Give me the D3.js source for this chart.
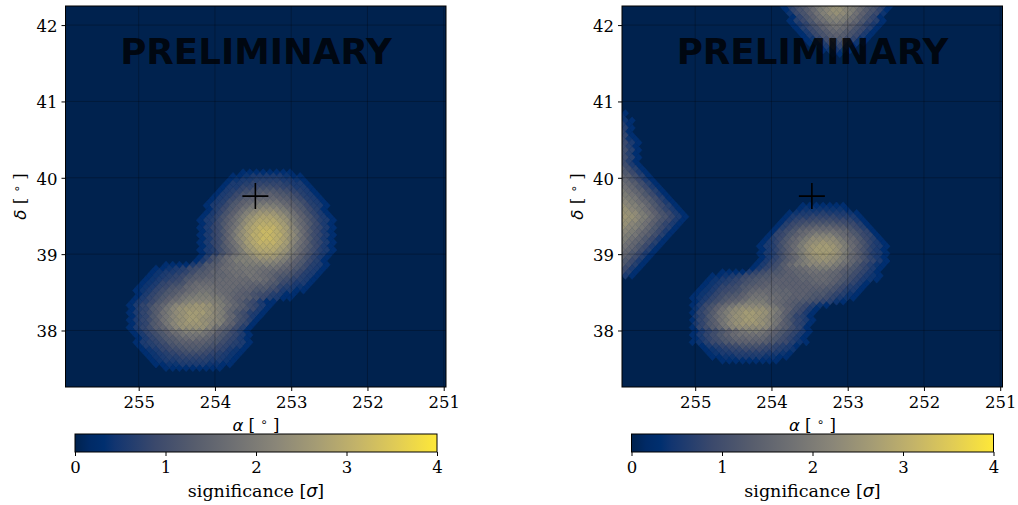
<!DOCTYPE html>
<html>
<head>
<meta charset="utf-8">
<script src="https://d3js.org/d3.v7.min.js"></script>
<style>
  body { margin: 0; background: #fff; }
  svg { display: block; }
  text { font-family: "DejaVu Serif", serif; fill: #000; }
  .math { font-family: "DejaVu Sans", sans-serif; font-style: italic; }
</style>
</head>
<body>
<svg id="chart" width="1018" height="505"></svg>
<script>
// tick labels
var alphaTicks = [255, 254, 253, 252, 251];
var deltaTicks = [38, 39, 40, 41, 42];
var barTicks = [0, 1, 2, 3, 4];

// source marker, degrees
var sourceAlpha = 253.47;
var sourceDelta = 39.76;

// sky pixel grid, degrees
var gridAlpha0 = 255.96, gridAlphaStep = 0.0879;
var gridDelta0 = 42.25, gridDeltaStep = 0.0484;
var sigmaPerStep = 0.11;

// colour bar stops: position in sigma, colour
var barStops = [0, 0.16, 0.32, 0.444, 0.888, 1.332, 1.776, 2.224, 2.668, 3.112, 3.556, 4];
var barColors = ["#00224e", "#002a66", "#002f6f", "#123570", "#3b496c", "#575d6d", "#707173", "#8a8678", "#a59c74", "#c3b369", "#e1cc55", "#fee838"];

// [row, first column, values in steps...]
var leftCells = [
  [45,26,3,3,3,3,3,3,3,3],
  [46,25,3,3,4,5,5,5,5,5,4,3,3],
  [47,24,3,4,5,5,6,6,6,6,5,5,4,3],
  [48,24,3,5,5,6,7,7,7,7,7,6,5,5,3],
  [49,23,3,5,5,7,7,8,9,9,8,7,7,5,5,3],
  [50,23,3,5,6,7,9,10,11,11,11,10,9,7,6,5,3],
  [51,22,3,5,6,8,10,11,12,13,13,12,11,10,8,6,5,3],
  [52,22,3,5,6,8,10,12,13,14,14,14,13,12,10,8,6,5,3],
  [53,21,3,5,6,9,11,13,14,16,16,16,16,14,13,11,9,6,5,3],
  [54,21,3,5,6,8,11,13,15,17,18,19,18,17,15,13,11,8,6,5,3],
  [55,21,3,6,8,11,13,16,18,20,21,21,20,18,16,13,11,8,6,3],
  [56,21,3,5,7,10,13,16,19,21,23,23,23,21,19,16,13,10,7,5,3],
  [57,20,3,5,7,10,13,16,19,22,24,25,25,24,22,19,16,13,10,7,5,3],
  [58,20,3,5,6,9,12,15,18,22,24,26,26,26,24,22,18,15,12,9,6,5,3],
  [59,20,3,5,8,11,14,17,21,24,26,27,27,26,24,21,17,14,11,8,5,3],
  [60,20,3,5,7,9,13,16,20,24,26,28,28,28,26,24,20,16,13,9,7,5,3],
  [61,20,3,5,8,11,15,19,22,25,27,29,29,27,25,22,19,15,11,8,5,3],
  [62,20,3,5,7,9,13,17,21,24,27,28,29,28,27,24,21,17,13,9,7,5,3],
  [63,20,3,5,8,11,15,19,22,25,27,29,29,27,25,22,19,15,11,8,5,3],
  [64,20,3,5,7,9,13,16,20,24,26,28,28,28,26,24,20,16,13,9,7,5,3],
  [65,20,3,5,8,11,14,17,21,24,26,27,27,26,24,21,17,14,11,8,5,3],
  [66,20,3,5,6,9,12,15,18,22,24,26,26,26,24,22,18,15,12,9,6,5,3],
  [67,20,3,5,7,10,13,16,19,22,24,25,25,24,22,19,16,13,10,7,5,3],
  [68,20,3,6,10,12,15,17,18,19,21,23,23,23,21,19,16,13,10,7,5,3],
  [69,19,3,5,8,11,14,16,18,19,19,20,21,21,20,18,16,13,11,8,6,3],
  [70,15,3,3,3,3,5,7,11,12,13,15,16,17,18,18,18,19,18,17,15,13,11,8,6,5,3],
  [71,13,3,3,4,5,6,8,9,10,12,13,15,16,17,17,17,17,16,16,16,14,13,11,9,6,5,3],
  [72,13,3,4,5,5,6,7,9,11,12,14,14,15,16,16,17,17,16,15,14,13,12,10,8,6,5,3],
  [73,12,3,4,5,6,7,8,10,12,12,13,14,14,15,16,16,17,16,15,14,12,11,10,8,6,5,3],
  [74,12,3,4,5,6,7,8,11,12,13,14,14,15,15,15,15,15,16,16,15,13,10,9,7,6,5,3],
  [75,11,3,4,5,7,8,9,10,13,15,15,15,15,15,15,15,15,14,14,14,12,11,8,7,5,5,3],
  [76,11,3,4,5,7,8,10,11,14,15,16,16,16,15,15,15,14,14,13,12,12,10,7,6,5,4,3],
  [77,10,3,4,5,7,9,11,12,13,15,16,17,17,16,15,15,14,13,13,11,11,9,8,5,5,3,3],
  [78,11,3,5,7,9,11,12,14,16,17,18,18,17,16,15,14,13,12,10,9,8,6,5,3,3],
  [79,10,3,5,7,9,11,13,15,17,18,19,19,19,18,17,15,13,13,12,10,8,6,5,3,3],
  [80,10,3,5,6,8,11,13,16,17,19,20,20,20,19,18,16,14,12,10,8,5,3,3],
  [81,9,3,5,7,9,12,14,17,20,21,22,23,23,22,20,18,16,14,12,9,7,5,3],
  [82,10,3,6,7,11,13,17,20,22,23,23,23,22,21,19,16,14,12,10,8,5,3],
  [83,9,3,5,7,9,12,16,18,21,22,24,24,24,22,20,18,14,11,9,6,5,3],
  [84,10,3,6,7,11,14,17,20,22,23,24,23,22,21,19,16,14,10,8,5,3],
  [85,9,3,5,7,9,12,16,18,21,22,24,24,22,21,20,18,14,11,9,6,3],
  [86,10,3,6,7,11,13,17,20,22,23,23,23,22,20,19,15,13,9,7,3],
  [87,9,3,5,7,9,12,14,17,20,22,22,22,22,20,17,14,12,9,6,3],
  [88,10,3,5,7,9,11,13,16,17,19,19,19,17,16,13,11,8,6,3],
  [89,10,3,5,7,9,11,13,15,17,17,17,17,15,13,11,9,7,5,3],
  [90,11,3,5,7,9,11,12,14,15,16,15,14,12,11,9,7,5,3],
  [91,10,3,5,6,7,9,11,12,13,13,13,13,12,11,9,7,6,5,3],
  [92,11,3,5,6,7,8,10,11,12,12,12,11,10,8,7,6,5,3],
  [93,11,3,4,5,7,8,9,10,11,11,10,9,8,7,5,4,3],
  [94,12,3,4,5,6,7,8,9,9,9,8,7,6,5,4,3],
  [95,12,3,4,5,6,6,7,7,7,7,6,6,5,4,3],
  [96,13,3,4,5,5,6,6,6,6,6,5,5,4,3],
  [97,13,3,3,4,4,5,5,5,5,4,4,3,3],
  [98,15,3,3,3,3,3,3,3,3,3]
];

var rightCells = [
  // top edge
  [0,24,3,6,9,11,14,17,19,21,22,21,19,17,14,11,9,6,3],
  [1,24,3,7,10,12,15,18,20,22,22,20,18,15,12,10,7,3],
  [2,25,4,8,10,13,16,19,21,22,21,19,16,13,10,8,4],
  [3,25,3,7,10,13,16,18,20,20,18,16,13,10,7,3],
  [4,25,3,6,8,11,14,16,18,19,18,16,14,11,8,6,3],
  [5,25,3,5,7,10,13,15,17,17,15,13,10,7,5,3],
  [6,26,3,6,8,10,13,15,16,15,13,10,8,6,3],
  [7,26,3,5,8,10,12,14,14,12,10,8,5,3],
  [8,27,3,5,8,10,12,13,12,10,8,5,3],
  [9,27,3,4,7,9,11,11,9,7,4,3],
  [10,28,3,4,6,8,9,8,6,4,3],
  [11,29,3,5,7,7,5,3],
  [12,30,3,4,5,4,3],
  [13,31,3,3],
  // left edge
  [29,0,3],[30,0,4],[31,0,4,3],[32,0,6,3],[33,0,6,3],[34,0,7,3],[35,0,7,3],
  [36,0,8,4,3],[37,0,8,5,3],[38,0,9,6,3],[39,0,9,6,3],[40,0,9,6,3],[41,0,9,6,3],
  [42,0,9,6,3],[43,0,9,5,3],[44,0,12,9,6,3],[45,0,11,8,5,3],[46,0,14,12,9,6,3],
  [47,0,14,11,8,5,3],[48,0,16,14,12,9,6,3],[49,0,16,14,11,8,5,3],
  [50,0,18,16,14,12,9,6,3],[51,0,18,16,14,11,8,5,3],[52,0,20,18,17,14,12,9,6,3],
  [53,0,20,18,16,14,11,8,5,3],[54,0,22,20,19,17,14,11,8,6,3],
  [55,0,22,20,18,16,13,10,7,5,3],[56,0,23,22,21,18,16,13,10,8,5,3],
  [57,0,23,22,20,18,15,12,10,7,5,3],[58,0,23,22,21,18,16,13,10,8,5,3],
  [59,0,22,20,18,16,13,10,7,5,3],[60,0,22,20,19,17,14,11,8,6,3],
  [61,0,20,18,16,14,11,8,5,3],[62,0,20,18,17,14,12,9,6,3],
  [63,0,18,16,14,11,8,5,3],[64,0,18,16,14,12,9,6,3],[65,0,16,14,11,8,5,3],
  [66,0,16,14,12,9,6,3],[67,0,14,11,8,5,3],[68,0,14,12,9,6,3],[69,0,11,8,5,3],
  [70,0,12,9,6,3],[71,0,8,5,3],[72,0,9,6,3],[73,0,5,3],
  // centre
  [54,27,3,3,3,3,3,3,3],
  [55,26,3,4,4,4,4,4,4,3],
  [56,25,3,4,5,5,5,6,5,5,5,4,3],
  [57,24,3,5,6,6,7,7,7,7,6,6,5,3],
  [58,24,3,5,7,8,8,9,9,9,8,8,7,5,3],
  [59,23,3,6,8,9,10,11,11,11,11,10,9,8,6,3],
  [60,23,3,6,8,10,12,13,14,14,14,13,12,10,8,6,3],
  [61,22,3,7,9,11,14,15,16,16,16,16,15,14,11,9,7,3],
  [62,22,3,7,8,11,13,15,17,19,19,19,17,15,13,11,8,7,3],
  [63,21,3,6,8,11,14,16,18,21,21,21,21,18,16,14,11,8,6,3],
  [64,21,3,5,7,10,13,15,18,21,22,23,22,21,18,15,13,10,7,5,3],
  [65,20,3,5,6,9,12,15,18,21,23,24,24,23,21,18,15,12,9,6,5,3],
  [66,21,3,5,7,10,13,16,19,22,24,24,24,22,19,16,13,10,7,5,3],
  [67,20,3,5,6,9,12,15,18,21,23,24,24,23,21,18,15,12,9,6,5,3],
  [68,21,3,5,7,10,13,15,18,21,22,23,22,21,18,15,13,10,7,5,3],
  [69,20,3,5,7,9,12,14,17,19,21,22,22,21,19,17,14,12,9,7,5,3],
  [70,20,3,5,7,9,12,15,17,18,20,20,20,20,18,16,14,11,8,6,4,3],
  [71,19,3,5,7,9,11,13,14,15,16,17,18,18,17,15,13,11,9,7,5,3],
  [72,15,3,3,3,3,5,7,9,10,11,12,13,14,15,16,16,16,15,14,12,11,9,7,5,3],
  [73,13,3,3,4,5,6,8,9,10,11,12,12,13,13,14,14,15,15,15,14,13,11,9,7,5,4,3],
  [74,13,3,4,5,6,7,9,10,11,12,12,13,13,13,13,14,14,15,15,14,13,11,9,7,5,4,3],
  [75,12,3,4,5,6,7,8,10,11,12,13,13,13,13,13,13,13,14,14,14,13,11,9,7,5,3],
  [76,12,3,4,5,7,8,9,11,12,13,13,14,14,13,13,13,13,13,13,13,12,10,8,6,5,3],
  [77,11,3,4,5,7,8,9,10,12,14,15,15,14,14,14,13,13,13,12,12,11,10,8,6,5,3],
  [78,11,3,4,5,7,9,10,11,13,15,16,16,15,15,14,14,13,13,12,11,11,9,7,6,4,3],
  [79,10,3,4,5,7,9,11,12,13,15,17,17,17,16,15,14,13,13,12,11,10,9,7,5,4,3],
  [80,11,3,5,7,9,11,13,14,16,18,18,18,16,15,14,13,12,11,10,9,7,6,4,3],
  [81,10,3,5,8,10,13,15,17,19,20,20,20,19,17,15,13,12,10,8,6,4,3],
  [82,11,4,7,10,13,16,19,21,22,22,22,22,20,18,15,13,10,8,5,3],
  [83,10,3,7,9,12,16,18,21,22,24,24,23,22,19,17,13,10,8,5,3],
  [84,11,5,7,11,14,17,20,22,23,24,23,22,20,17,14,11,7,6,3],
  [85,10,3,7,9,12,16,18,21,22,24,24,22,21,18,16,12,9,7,5,3],
  [86,11,5,7,11,13,17,20,22,23,23,23,22,20,17,13,11,7,6,3],
  [87,10,3,7,9,12,14,17,20,21,21,21,21,20,17,14,12,9,7,3],
  [88,11,3,5,7,9,11,13,15,17,18,18,17,15,13,11,9,7,5,3],
  [89,10,3,5,7,9,11,13,15,16,16,16,16,15,13,11,9,7,5,3],
  [90,11,3,5,7,9,11,12,14,14,15,14,14,12,11,9,7,5,3],
  [91,10,3,4,6,8,9,11,12,13,13,13,13,12,11,9,8,6,4,3],
  [92,12,3,5,6,7,8,9,10,10,10,9,8,7,6,5,3],
  [93,12,3,4,5,6,7,7,8,8,8,7,7,6,5,4],
  [94,13,3,4,5,5,6,6,6,6,6,5,5,4,3],
  [95,13,3,3,4,4,5,5,5,5,4,4,3,3],
  [96,15,3,3,3,3,3,3,3,3,3]
];

var svg = d3.select("#chart");

var x = d3.scaleLinear().domain([255.96, 250.97]).range([65.5, 446]);
var y = d3.scaleLinear().domain([37.26, 42.25]).range([387, 6]);
var barX = d3.scaleLinear().domain([0, 4]).range([75, 437]);
var color = d3.scaleLinear().domain(barStops).range(barColors).clamp(true);

var defs = svg.append("defs");

// shared gradient for both colour bars
var grad = defs.append("linearGradient").attr("id", "barGrad");
grad.selectAll("stop").data(barStops).enter().append("stop")
  .attr("offset", function(d) { return d / 4; })
  .attr("stop-color", function(d) { return color(d); });

defs.append("clipPath").attr("id", "plotClip").append("rect")
  .attr("x", x.range()[0]).attr("y", y.range()[1])
  .attr("width", x.range()[1] - x.range()[0])
  .attr("height", y.range()[0] - y.range()[1]);

// the original map was resampled, so soften the pixel edges a little
defs.append("filter").attr("id", "soft").append("feGaussianBlur").attr("stdDeviation", 0.55);

function toPixels(cells) {
  var out = [];
  cells.forEach(function(r) {
    for (var i = 2; i < r.length; i++) {
      out.push({row: r[0], col: r[1] + i - 2, sigma: r[i] * sigmaPerStep});
    }
  });
  return out;
}

function diamond(d) {
  var a = gridAlpha0 - (d.col + (d.row % 2) / 2) * gridAlphaStep;
  var b = gridDelta0 - d.row * gridDeltaStep;
  return [
    [x(a - gridAlphaStep / 2), y(b)],
    [x(a), y(b + gridDeltaStep)],
    [x(a + gridAlphaStep / 2), y(b)],
    [x(a), y(b - gridDeltaStep)]
  ].join(" ");
}

function styleTicks(axis) {
  axis.select(".domain").remove();
  axis.selectAll("text").style("font-family", "'DejaVu Serif', serif").style("font-size", "16.5px");
}

function drawPanel(offset, cells) {
  var g = svg.append("g").attr("transform", "translate(" + offset + ",0)");
  var plot = g.append("g").attr("clip-path", "url(#plotClip)");

  plot.append("rect")
    .attr("x", x.range()[0]).attr("y", y.range()[1])
    .attr("width", x.range()[1] - x.range()[0])
    .attr("height", y.range()[0] - y.range()[1])
    .attr("fill", color(0));

  plot.append("g").attr("filter", "url(#soft)")
    .selectAll("polygon").data(toPixels(cells)).enter().append("polygon")
    .attr("points", diamond)
    .attr("fill", function(d) { return color(d.sigma); })
    .attr("stroke", function(d) { return color(d.sigma); })
    .attr("stroke-width", 0.4);

  // grid
  plot.selectAll(".vgrid").data(alphaTicks).enter().append("line")
    .attr("x1", x).attr("x2", x).attr("y1", y.range()[0]).attr("y2", y.range()[1])
    .attr("stroke", "#000").attr("stroke-opacity", 0.25);
  plot.selectAll(".hgrid").data(deltaTicks).enter().append("line")
    .attr("y1", y).attr("y2", y).attr("x1", x.range()[0]).attr("x2", x.range()[1])
    .attr("stroke", "#000").attr("stroke-opacity", 0.25);

  // preliminary stamp
  g.append("text")
    .attr("x", 256).attr("y", 64)
    .attr("text-anchor", "middle")
    .style("font-family", "'DejaVu Sans', sans-serif")
    .style("font-weight", "bold").style("font-size", "35.7px")
    .style("fill-opacity", 0.8)
    .text("PRELIMINARY");

  // source cross
  var sx = x(sourceAlpha), sy = y(sourceDelta);
  g.append("path")
    .attr("d", "M" + (sx - 13) + "," + sy + "H" + (sx + 13) + "M" + sx + "," + (sy - 13) + "V" + (sy + 13))
    .attr("stroke", "#000").attr("stroke-width", 1.6).attr("fill", "none");

  // frame
  g.append("rect")
    .attr("x", x.range()[0]).attr("y", y.range()[1])
    .attr("width", x.range()[1] - x.range()[0])
    .attr("height", y.range()[0] - y.range()[1])
    .attr("fill", "none").attr("stroke", "#000");

  // axes
  var ax = g.append("g").attr("transform", "translate(0,387)")
    .call(d3.axisBottom(x).tickValues(alphaTicks).tickFormat(d3.format("d")).tickSize(4).tickPadding(5));
  var ay = g.append("g").attr("transform", "translate(65.5,0)")
    .call(d3.axisLeft(y).tickValues(deltaTicks).tickFormat(d3.format("d")).tickSize(4).tickPadding(4));
  styleTicks(ax);
  styleTicks(ay);
  ay.selectAll("text").attr("dy", "0.39em");

  // axis labels
  var xl = g.append("text").attr("x", 256).attr("y", 431).attr("text-anchor", "middle").style("font-size", "16.5px");
  xl.append("tspan").attr("class", "math").text("α");
  xl.append("tspan").text(" [ ");
  xl.append("tspan").attr("class", "math").attr("dy", -5).style("font-size", "12px").style("font-style", "normal").text("∘");
  xl.append("tspan").attr("dy", 5).text(" ]");

  var yl = g.append("text").attr("transform", "translate(26,196.5) rotate(-90)").attr("text-anchor", "middle").style("font-size", "16.5px");
  yl.append("tspan").attr("class", "math").text("δ");
  yl.append("tspan").text(" [ ");
  yl.append("tspan").attr("class", "math").attr("dy", -5).style("font-size", "12px").style("font-style", "normal").text("∘");
  yl.append("tspan").attr("dy", 5).text(" ]");

  // colour bar
  g.append("rect")
    .attr("x", barX.range()[0]).attr("y", 434)
    .attr("width", barX.range()[1] - barX.range()[0]).attr("height", 18)
    .attr("fill", "url(#barGrad)").attr("stroke", "#000");
  var bar = g.append("g").attr("transform", "translate(0,452)")
    .call(d3.axisBottom(barX).tickValues(barTicks).tickFormat(d3.format("d")).tickSize(4).tickPadding(5));
  styleTicks(bar);

  var bl = g.append("text").attr("x", 256).attr("y", 497).attr("text-anchor", "middle").style("font-size", "17.5px");
  bl.append("tspan").text("significance [");
  bl.append("tspan").attr("class", "math").text("σ");
  bl.append("tspan").text("]");
}

drawPanel(0, leftCells);
drawPanel(556.5, rightCells);
</script>
</body>
</html>
